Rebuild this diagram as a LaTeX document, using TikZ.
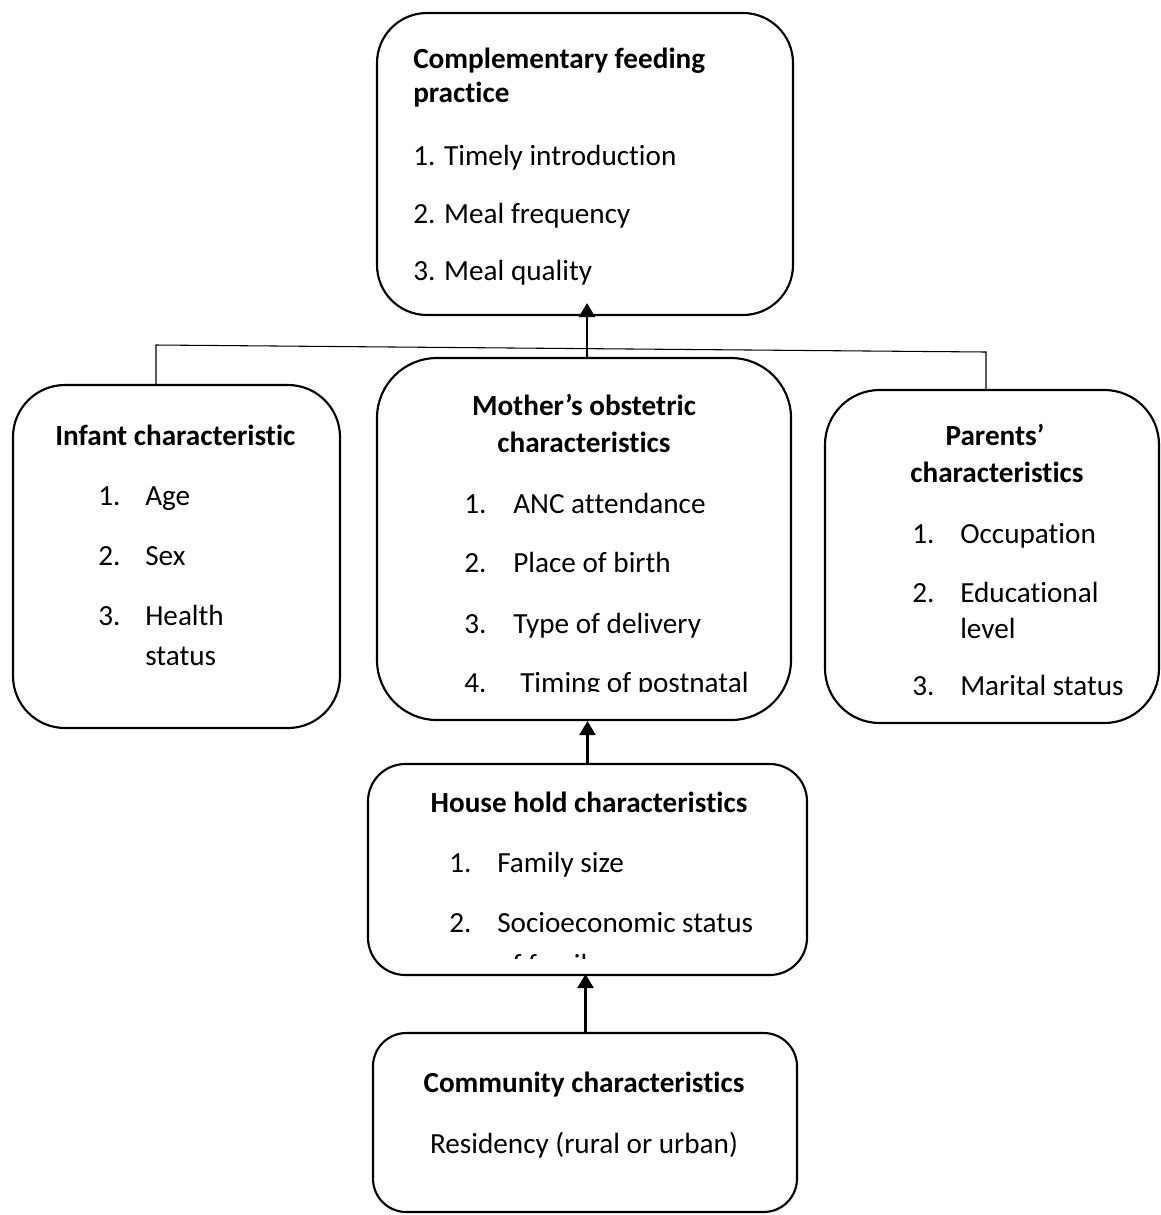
\documentclass[tikz,border=0pt]{standalone}
\usepackage{fontspec}
\setmainfont{Carlito}[Ligatures={NoCommon,NoRare,NoContextual}]
\usetikzlibrary{arrows.meta}
\newcommand\nlg{\kern0pt }
\begin{document}
\begin{tikzpicture}[x=0.75pt,y=-0.75pt,
  box/.style={draw, line width=1.6pt, rectangle, inner sep=0pt},
  txt/.style={inner sep=0pt, anchor=base west, font=\fontsize{21.9}{26}\selectfont},
  ctxt/.style={inner sep=0pt, anchor=base, font=\fontsize{21.9}{26}\selectfont},
  bt/.style={txt, font=\fontsize{21.9}{26}\selectfont\bfseries},
  bct/.style={ctxt, font=\fontsize{21.9}{26}\selectfont\bfseries},
  arr/.style={line width=2pt, -{Triangle[width=12pt,length=10.5pt]}},
  thin/.style={line width=0.8pt}]
\useasboundingbox (0,0) rectangle (1161,1215);

% boxes
\node[box, minimum width=312pt, minimum height=226.5pt, rounded corners=37.5pt] (top) at (585,164) {};
\node[box, minimum width=245.25pt, minimum height=257.25pt, rounded corners=39pt] (infant) at (176.5,556.5) {};
\node[box, minimum width=310.5pt, minimum height=271.5pt, rounded corners=45pt] (mother) at (584,539) {};
\node[box, minimum width=250.5pt, minimum height=249.75pt, rounded corners=41pt] (parents) at (992,556.5) {};
\node[box, minimum width=329.25pt, minimum height=158.25pt, rounded corners=28pt] (household) at (587.5,869.5) {};
\node[box, minimum width=318pt, minimum height=134.25pt, rounded corners=25pt] (community) at (585,1122.5) {};

% top box text
\node[bt] (t1) at (413,68) {Complementary feeding};
\node[bt] (t2) at (413,102) {practice};
\node[txt] (t3) at (413,165) {1. Timely introduct\nlg ion};
\node[txt] (t4) at (413,223) {2. Meal frequency};
\node[txt] (t5) at (413,280) {3. Meal quality};

% infant text
\node[bt] (i0) at (55,445) {Infant characterist\nlg ic};
\node[txt] (i1n) at (98,505) {1.};
\node[txt] (i1) at (145,505) {Age};
\node[txt] (i2n) at (98,565) {2.};
\node[txt] (i2) at (145,565) {Sex};
\node[txt] (i3n) at (98,625) {3.};
\node[txt] (i3) at (145,625) {Health};
\node[txt] (i3b) at (145,665) {status};

% mother text
\node[bct] (m0) at (584,415) {Mother’s obstetric};
\node[bct] (m0b) at (584,452) {characterist\nlg ics};
\node[txt] (m1n) at (464,513) {1.};
\node[txt] (m1) at (513,513) {ANC at\nlg tendance};
\node[txt] (m2n) at (464,572) {2.};
\node[txt] (m2) at (513,572) {Place of birth};
\node[txt] (m3n) at (464,633) {3.};
\node[txt] (m3) at (513,633) {Type of delivery};
\begin{scope}
  \clip (370,640) rectangle (800,691);
  \node[txt] (m4n) at (464,692) {4.};
  \node[txt] (m4) at (520,692) {Timing of postnatal};
\end{scope}

% parents text
\node[bct] (p0) at (995,445) {Parents’};
\node[bct] (p0b) at (997,482) {characterist\nlg ics};
\node[txt] (p1n) at (912,543) {1.};
\node[txt] (p1) at (960,543) {Occupat\nlg ion};
\node[txt] (p2n) at (912,602) {2.};
\node[txt] (p2) at (960,602) {Educat\nlg ional};
\node[txt] (p2b) at (960,638) {level};
\node[txt] (p3n) at (912,695) {3.};
\node[txt] (p3) at (960,695) {Marital status};

% household text
\node[bct] (h0) at (589,812) {House hold characterist\nlg ics};
\node[txt] (h1n) at (449,872) {1.};
\node[txt] (h1) at (497,872) {Family size};
\node[txt] (h2n) at (449,932) {2.};
\node[txt] (h2) at (497,932) {Socioeconomic status};
\begin{scope}
  \clip (370,940) rectangle (800,958);
  \node[txt] (h2b) at (497,974) {of family};
\end{scope}

% community text
\node[bct] (c0) at (584,1092) {Community characterist\nlg ics};
\node[ctxt] (c1) at (584,1153) {Residency (rural or urban)};

% connectors
\coordinate (bl) at (156,345);
\coordinate (br) at (986,352);
\draw[thin] (bl |- infant.north) -- (bl) -- (br) -- (br |- parents.north);
\draw[arr, shorten >=-9.75pt] ([xshift=2.25pt]mother.north) -- ([xshift=1.5pt]top.south);
\draw[arr] (household.north) -- (household.north |- mother.south);
\draw[arr, shorten >=-1.5pt] ([xshift=0.375pt]community.north) -- ([xshift=0.375pt]community.north |- household.south);
\end{tikzpicture}
\end{document}
